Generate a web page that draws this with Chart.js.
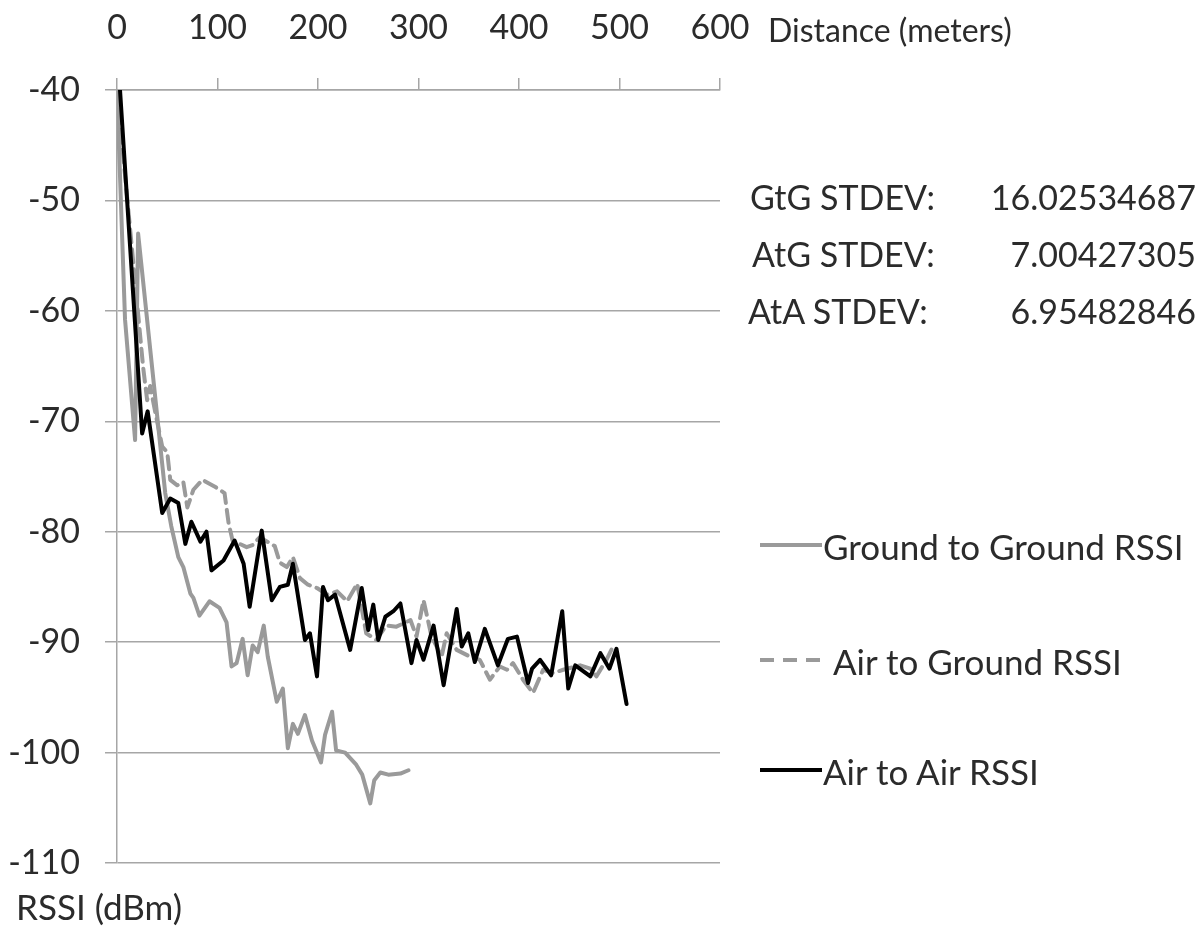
<!DOCTYPE html>
<html>
<head>
<meta charset="utf-8">
<title>RSSI vs distance</title>
<script src="https://cdn.jsdelivr.net/npm/chart.js@4.4.1/dist/chart.umd.min.js"></script>
<style>
  body { margin: 0; background: #fff; }
  #wrap { position: relative; width: 1202px; height: 936px; font-family: Lato, sans-serif; color: #2b2b2b; }
  #chart { position: absolute; left: 0; top: 0; }
  .txt { position: absolute; font-size: 34px; line-height: 1; white-space: nowrap; transform: translateY(-50%); }
  .leg { font-size: 35px; }
  .num { text-align: right; }
  .key { position: absolute; height: 4px; width: 62px; transform: translateY(-50%); }
</style>
</head>
<body>
<div id="wrap">
  <canvas id="chart" width="1202" height="936"></canvas>

  <div class="txt" style="left:768px; top:30px; font-size:32px;">Distance (meters)</div>
  <div class="txt" style="left:16px; top:906px; font-size:35px;">RSSI (dBm)</div>

  <div class="txt" style="left:750px; top:197px;">GtG STDEV:</div>
  <div class="txt num" style="right:6px; top:197px;">16.02534687</div>
  <div class="txt" style="left:752px; top:254px;">AtG STDEV:</div>
  <div class="txt num" style="right:6px; top:254px;">7.00427305</div>
  <div class="txt" style="left:748px; top:311px;">AtA STDEV:</div>
  <div class="txt num" style="right:6px; top:311px;">6.95482846</div>

  <div class="key" style="left:760px; top:545px; background:#9a9a9a;"></div>
  <div class="txt leg" style="left:823px; top:546px;">Ground to Ground RSSI</div>
  <div class="key" style="left:760px; top:660px; background:repeating-linear-gradient(to right, #9a9a9a 0 14px, transparent 14px 23px);"></div>
  <div class="txt leg" style="left:833px; top:661px;">Air to Ground RSSI</div>
  <div class="key" style="left:760px; top:770px; background:#000;"></div>
  <div class="txt leg" style="left:823px; top:771px;">Air to Air RSSI</div>
</div>

<script>
// distance in meters, rssi in dBm
const gtgDist = [0, 8, 18, 21, 48, 54, 61, 66, 73, 76, 82, 92, 102, 109, 114, 119, 125, 130, 135, 140, 146, 150, 159, 165, 170, 175, 180, 187, 194, 203, 207, 214, 218, 227, 238, 244, 252, 256, 262, 270, 282, 290]
const gtgRssi = [-40, -60.8, -71.7, -53, -76.5, -79.5, -82.3, -83.2, -85.6, -86, -87.6, -86.3, -86.9, -88.2, -92.2, -91.9, -89.7, -93, -90.3, -90.9, -88.5, -91.3, -95.4, -94.2, -99.6, -97.4, -98.3, -96.6, -98.9, -100.9, -98.4, -96.3, -99.8, -100, -101.1, -102, -104.6, -102.5, -101.8, -102, -101.9, -101.6]

const atgDist = [0, 26, 30, 33, 39, 45, 50, 53, 60, 66, 70, 76, 85, 97, 107, 111, 115, 129, 135, 142, 157, 162, 169, 175, 182, 190, 199, 209, 219, 229, 239, 248, 258, 268, 278, 292, 298, 305, 313, 323, 328, 338, 351, 361, 371, 381, 388, 394, 404, 414, 424, 434, 444, 461, 471, 477, 487, 494]
const atgRssi = [-40, -65.1, -68.1, -66.8, -69.6, -72.3, -72.8, -75.3, -75.8, -75.5, -77.8, -76.2, -75.3, -75.9, -76.5, -79.2, -80.8, -81.4, -81.2, -80.5, -81.3, -82.8, -83.2, -82.3, -84.2, -84.8, -85.1, -85.7, -85.4, -86.3, -84.7, -89.2, -89.8, -88.5, -88.6, -88, -89.5, -86.2, -89.5, -91.3, -89.2, -90.7, -91.3, -91.6, -93.4, -92.2, -92.5, -91.9, -93.4, -94.6, -92.5, -92.8, -92.5, -92.1, -92.4, -93.1, -91.6, -90.3]

const ataDist = [3, 25, 30.5, 45, 53, 61, 68, 74, 83, 89, 94, 106, 117, 126, 132, 144, 154, 162, 170, 175, 187, 192, 199, 205, 210, 217, 232, 243.5, 250, 255, 260, 267, 275, 282, 293, 298, 305, 315, 325, 338, 343, 349.5, 356, 366, 379, 389, 398, 409, 413, 421, 432, 443, 449, 456, 471, 481, 490, 497, 507]
const ataRssi = [-40, -71.1, -69.1, -78.3, -77, -77.4, -81.1, -79.1, -80.9, -80, -83.5, -82.6, -80.8, -82.9, -86.8, -79.9, -86.2, -85, -84.8, -82.9, -89.8, -89.2, -93.1, -85, -86.2, -85.7, -90.7, -85.1, -88.9, -86.6, -89.8, -87.7, -87.2, -86.5, -91.9, -89.8, -91.6, -88.5, -93.9, -87, -90.4, -89.2, -91.8, -88.8, -92.1, -89.7, -89.5, -93.7, -92.4, -91.6, -93, -87.2, -94.2, -92.1, -93.1, -91, -92.4, -90.6, -95.6]

const xTicks = [0, 100, 200, 300, 400, 500, 600]
const yTicks = [-110, -100, -90, -80, -70, -60, -50, -40]

function points(xs, ys) {
    return xs.map((x, i) => ({ x: x, y: ys[i] }))
}

const tickFont = { family: 'Lato', size: 34 }
const gridGray = '#a6a6a6'

new Chart(document.getElementById('chart'), {
    type: 'line',
    data: {
        datasets: [
            {
                label: 'Air to Air RSSI',
                data: points(ataDist, ataRssi),
                borderColor: '#000',
                borderWidth: 4
            },
            {
                label: 'Air to Ground RSSI',
                data: points(atgDist, atgRssi),
                borderColor: '#9a9a9a',
                borderWidth: 4,
                borderDash: [13, 7]
            },
            {
                label: 'Ground to Ground RSSI',
                data: points(gtgDist, gtgRssi),
                borderColor: '#9a9a9a',
                borderWidth: 4
            }
        ]
    },
    options: {
        responsive: false,
        animation: false,
        layout: { padding: { left: 0, top: 0, right: 482, bottom: 73 } },
        elements: {
            point: { radius: 0 },
            line: { tension: 0, borderJoinStyle: 'round', borderCapStyle: 'round' }
        },
        plugins: { legend: { display: false }, tooltip: { enabled: false } },
        scales: {
            x: {
                type: 'linear',
                position: 'top',
                min: 0,
                max: 600,
                afterBuildTicks: s => { s.ticks = xTicks.map(v => ({ value: v })) },
                afterFit: s => { s.height = 90 },
                ticks: { font: tickFont, color: '#2b2b2b', padding: 30, maxRotation: 0 },
                grid: { drawOnChartArea: false, tickLength: 12, color: gridGray, lineWidth: 1.5 },
                border: { color: gridGray, width: 1.5 }
            },
            y: {
                min: -110,
                max: -40,
                afterBuildTicks: s => { s.ticks = yTicks.map(v => ({ value: v })) },
                afterFit: s => { s.width = 117 },
                ticks: { font: tickFont, color: '#2b2b2b', padding: 25 },
                grid: { tickLength: 12, color: gridGray, lineWidth: 1.5 },
                border: { color: gridGray, width: 1.5 }
            }
        }
    }
})
</script>
</body>
</html>
